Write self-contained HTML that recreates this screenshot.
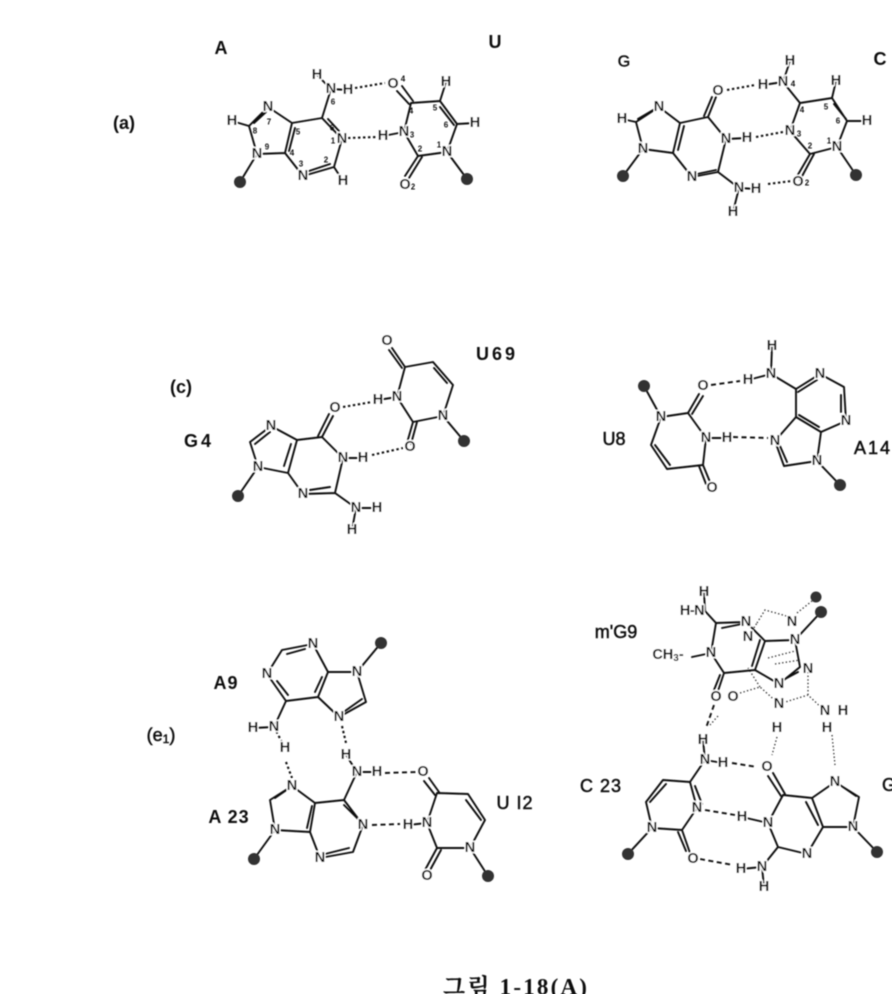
<!DOCTYPE html>
<html><head><meta charset="utf-8">
<style>
html,body{margin:0;padding:0;background:#fff;width:892px;height:994px;overflow:hidden}
svg{display:block}
.b{fill:none;stroke:#111;stroke-width:1.9;stroke-linecap:round;stroke-linejoin:round}
.d{fill:none;stroke:#111;stroke-width:2.1;stroke-dasharray:2.4 2.6}
.e{fill:none;stroke:#111;stroke-width:1.9;stroke-dasharray:5 3.5}
.p{fill:none;stroke:#333;stroke-width:1.3;stroke-dasharray:1.4 2.2}
.g{fill:#333}
text{font-family:"Liberation Sans","Noto Sans CJK KR",sans-serif;fill:#111;text-anchor:middle;dominant-baseline:central}
.a text{font-size:14.5px;font-weight:bold;paint-order:stroke;stroke:#fff;stroke-width:2.4px;stroke-linejoin:round}
.n text{font-size:8px;font-weight:bold}
.l text{font-size:18px;font-weight:bold}
.l text.t{font-weight:normal;stroke:#111;stroke-width:.5px}
</style></head><body>
<svg width="892" height="994" viewBox="0 0 892 994" xmlns="http://www.w3.org/2000/svg">
<defs><filter id="s"><feGaussianBlur stdDeviation="0.45"/></filter></defs>
<g filter="url(#s)">

<!-- panel a -->
<path class="b" d="M268 107L249 126L257 154L285 153L292 123L268 107M249 126L232 121M254 123L266 112M257 154L240 182M285 153L303 176L334 167L342 139L322 118L292 123M289 151L295 128M309 171L330 164M328 119L339 131M322 118L331 89M317 75L331 89M331 89L348 90M334 167L343 181"/>
<path class="b" d="M397 91L409 104M402 86L413 101M411 103L440 101L457 124L447 152L418 156L404 132L411 103M440 107L454 125M457 124L475 123M440 101L446 82M404 132L383 136M447 152L467 179M418 156L405 176M422 157L409 178"/>
<path class="d" d="M355 88L385 83M348 138L377 137"/>
<circle class="g" cx="240" cy="182" r="6"/><circle class="g" cx="467" cy="179" r="6"/>
<g class="a">
<text x="268" y="107">N</text><text x="232" y="121">H</text><text x="257" y="154">N</text><text x="303" y="176">N</text><text x="342" y="139">N</text><text x="343" y="181">H</text><text x="331" y="89">N</text><text x="317" y="75">H</text><text x="348" y="90">H</text>
<text x="393" y="84">O</text><text x="446" y="82">H</text><text x="475" y="123">H</text><text x="447" y="152">N</text><text x="404" y="132">N</text><text x="383" y="136">H</text><text x="405" y="185">O</text>
</g>
<g class="n"><text x="269" y="122">7</text><text x="255" y="131">8</text><text x="267" y="147">9</text><text x="298" y="132">5</text><text x="292" y="153">4</text><text x="301" y="164">3</text><text x="332" y="128">6</text><text x="333" y="141">1</text><text x="326" y="160">2</text><text x="333" y="102">6</text><text x="403" y="79">4</text><text x="411" y="111">4</text><text x="435" y="108">5</text><text x="446" y="125">6</text><text x="439" y="145">1</text><text x="420" y="149">2</text><text x="412" y="135">3</text><text x="413" y="187">2</text></g>

<!-- panel b -->
<path class="b" d="M659 107L636 122L643 149L673 153L680 123L659 107M636 122L622 119M638 119L655 109M643 149L623 176M673 153L692 177L718 172L726 139L708 117L680 123M678 150L684 126M697 174L716 170M708 117L716 97M704 116L712 97M726 139L747 138M718 172L739 188M739 188L756 189M739 188L733 212"/>
<path class="b" d="M790 61L783 82L800 103L832 98L847 121L837 147L810 154L790 131L800 103M783 82L763 85M832 98L836 81M847 121L867 121M834 104L846 119M837 147L856 175M810 154L796 178M814 154L800 180"/>
<path class="d" d="M727 90L755 85M756 137L783 132M768 184L792 181"/>
<circle class="g" cx="623" cy="176" r="6"/><circle class="g" cx="856" cy="175" r="6"/>
<g class="a">
<text x="659" y="107">N</text><text x="622" y="119">H</text><text x="643" y="149">N</text><text x="692" y="177">N</text><text x="726" y="139">N</text><text x="747" y="138">H</text><text x="718" y="91">O</text><text x="739" y="188">N</text><text x="756" y="189">H</text><text x="733" y="212">H</text>
<text x="790" y="61">H</text><text x="763" y="85">H</text><text x="783" y="82">N</text><text x="836" y="81">H</text><text x="867" y="121">H</text><text x="837" y="147">N</text><text x="790" y="131">N</text><text x="798" y="182">O</text>
</g>
<g class="n"><text x="793" y="84">4</text><text x="802" y="110">4</text><text x="826" y="107">5</text><text x="838" y="121">6</text><text x="829" y="141">1</text><text x="810" y="146">2</text><text x="799" y="134">3</text><text x="807" y="183">2</text></g>

<!-- panel c -->
<path class="b" d="M271 426L250 442L258 467L288 473L297 440L271 426M255 444L270 432M258 467L238 496M288 473L303 494L335 493L343 458L322 437L297 440M284 466L291 444M310 490L330 487M322 437L333 416M318 436L329 414M343 458L363 458M335 493L356 508L377 508M356 508L352 530"/>
<path class="b" d="M378 400L397 397L405 367L433 362L453 385L443 416L413 422L397 397M405 367L392 348M402 368L389 350M434 368L447 383M443 416L464 441M413 422L407 443M417 422L411 444"/>
<path class="d" d="M343 407L372 402M372 455L403 448"/>
<circle class="g" cx="238" cy="496" r="6"/><circle class="g" cx="464" cy="441" r="6"/>
<g class="a">
<text x="271" y="426">N</text><text x="258" y="467">N</text><text x="303" y="494">N</text><text x="343" y="458">N</text><text x="363" y="458">H</text><text x="335" y="408">O</text><text x="356" y="508">N</text><text x="377" y="508">H</text><text x="352" y="530">H</text>
<text x="378" y="400">H</text><text x="397" y="397">N</text><text x="387" y="341">O</text><text x="443" y="416">N</text><text x="410" y="447">O</text>
</g>

<!-- panel d -->
<path class="b" d="M644 386L661 417L688 413L706 438L703 465L667 469L651 445L661 417M688 413L699 394M692 414L703 396M655 445L670 465M703 465L710 482M699 466L706 484M706 438L727 438"/>
<path class="b" d="M748 380L771 374L772 346M771 374L796 389L820 374L844 387L846 421L821 432L796 417L796 389M798 392L817 380M841 395L841 412M796 417L775 441L784 466L817 461L821 432M799 415L819 427M817 461L840 485M780 446L787 462"/>
<path class="e" d="M711 385L740 381M733 437L768 438"/>
<circle class="g" cx="644" cy="386" r="6"/><circle class="g" cx="840" cy="485" r="6"/>
<g class="a">
<text x="703" y="386">O</text><text x="661" y="417">N</text><text x="706" y="438">N</text><text x="727" y="438">H</text><text x="712" y="488">O</text>
<text x="748" y="380">H</text><text x="771" y="374">N</text><text x="772" y="346">H</text><text x="820" y="374">N</text><text x="846" y="421">N</text><text x="775" y="441">N</text><text x="817" y="461">N</text>
</g>

<!-- panel e -->
<path class="b" d="M313 644L282 650L267 674L286 701L318 697L328 672L313 644M287 654L305 649M277 681L288 695M322 677L315 692M328 672L357 672L366 702L339 717L318 697M345 711L362 699M357 672L381 643M286 701L274 727L253 728"/>
<path class="b" d="M292 786L270 800L275 830L310 832L315 803L292 786M275 798L288 789M275 830L254 859M310 832L320 858L353 852L363 825L344 800L315 803M307 828L312 806M325 854L349 848M344 805L360 821M344 800L357 772L377 772M357 772L346 755"/>
<path class="b" d="M424 781L435 795M429 778L439 792M437 793L468 794L485 820L470 848L437 848L427 823L437 793M466 800L481 820M470 848L488 876M437 848L425 870M441 850L429 872M427 823L408 825"/>
<path class="d" d="M286 762L292 778M342 726L346 743M274 727L285 748"/>
<path class="e" d="M385 773L417 772M372 825L400 824"/>
<circle class="g" cx="381" cy="643" r="6"/><circle class="g" cx="254" cy="859" r="6"/><circle class="g" cx="488" cy="876" r="6"/>
<g class="a">
<text x="313" y="644">N</text><text x="267" y="674">N</text><text x="357" y="672">N</text><text x="339" y="717">N</text><text x="274" y="727">N</text><text x="253" y="728">H</text><text x="285" y="748">H</text><text x="346" y="755">H</text>
<text x="357" y="772">N</text><text x="377" y="772">H</text><text x="292" y="786">N</text><text x="275" y="830">N</text><text x="320" y="858">N</text><text x="363" y="825">N</text>
<text x="423" y="772">O</text><text x="427" y="823">N</text><text x="408" y="825">H</text><text x="470" y="848">N</text><text x="427" y="876">O</text>
</g>

<!-- panel f -->
<path class="p" d="M757 623L765 610L790 617M797 613L812 601M748 637L757 623M768 658L795 651M775 664L800 660M740 693L760 687L779 704L808 695L825 711M808 695L808 672M760 687L748 668"/>
<path class="b" d="M704 592L705 611L716 623L746 622L765 641L755 670L724 673L711 653L716 623M722 628L742 624M711 653L692 657M724 673L718 691M720 675L714 690M765 641L795 640L800 667L779 684L755 670M760 640L752 666M783 680L798 672M795 640L821 612"/>
<path class="b" d="M690 782L663 780L646 802L652 828L682 830L697 808L690 782M666 784L650 802M695 786L702 804M652 828L628 854M682 830L690 853M678 832L686 851M690 782L705 760M705 760L723 763M705 760L703 740"/>
<path class="b" d="M768 776L781 796M773 773L785 794M783 795L812 798L823 827L807 854L778 847L768 823L783 795M806 802L818 825M812 798L835 782L859 797L853 827L823 827M840 785L856 796M853 827L877 852M778 847L762 867L741 869M762 867L764 887M768 823L742 817"/>
<path class="e" d="M714 705L706 728M732 763L757 767M705 810L735 815M700 859L733 865"/>
<path class="p" d="M718 716L710 725M777 737L772 755M832 735L835 765"/>
<circle class="g" cx="816" cy="597" r="5.5"/><circle class="g" cx="821" cy="612" r="6"/><circle class="g" cx="628" cy="854" r="6"/><circle class="g" cx="877" cy="852" r="6"/>
<g class="a">
<text x="704" y="592">H</text><text x="692" y="611" style="letter-spacing:-.5px">H-N</text><text x="746" y="622">N</text><text x="748" y="637">N</text><text x="792" y="622">N</text><text x="795" y="640">N</text><text x="808" y="669">N</text><text x="779" y="684">N</text><text x="711" y="653">N</text><text x="668" y="655">CH<tspan font-size="10" dy="3">3</tspan><tspan dy="-3">-</tspan></text><text x="716" y="697">O</text><text x="733" y="697">O</text><text x="779" y="704">N</text><text x="825" y="711">N</text><text x="843" y="711">H</text><text x="777" y="728">H</text><text x="827" y="728">H</text>
<text x="703" y="740">H</text><text x="705" y="760">N</text><text x="723" y="763">H</text><text x="767" y="767">O</text><text x="697" y="808">N</text><text x="652" y="828">N</text><text x="693" y="859">O</text>
<text x="742" y="817">H</text><text x="768" y="823">N</text><text x="807" y="854">N</text><text x="741" y="869">H</text><text x="762" y="867">N</text><text x="764" y="887">H</text><text x="835" y="782">N</text><text x="853" y="827">N</text>
</g>

<!-- labels -->
<g class="l">
<text x="221" y="48">A</text><text x="495" y="42">U</text><text x="124" y="123">(a)</text>
<text x="880" y="59">C</text><text x="624" y="62" class="t" style="font-size:16px">G</text>
<text x="181" y="387">(c)</text><text x="199" y="441" style="letter-spacing:3px">G4</text><text x="497" y="354" style="letter-spacing:3px">U69</text>
<text x="614" y="439" class="t">U8</text><text x="873" y="448" class="t" style="letter-spacing:2px">A14</text>
<text x="226" y="683" style="letter-spacing:1px">A9</text><text x="161" y="735" class="t">(e<tspan font-size="12" dy="4">1</tspan><tspan dy="-4">)</tspan></text><text x="229" y="817" style="letter-spacing:1px">A 23</text><text x="515" y="803" class="t" style="letter-spacing:1px">U I2</text>
<text x="616" y="632" class="t">m'G9</text><text x="601" y="786" class="t" style="letter-spacing:1px">C 23</text><text x="889" y="785" class="t">G</text>
</g>
<text x="516" y="987" style="font-family:'Liberation Serif','Noto Serif CJK SC','Noto Sans CJK KR',serif;font-size:23px;font-weight:bold;letter-spacing:2.2px">그림 1-18(A)</text>
</g>
</svg>
</body></html>
